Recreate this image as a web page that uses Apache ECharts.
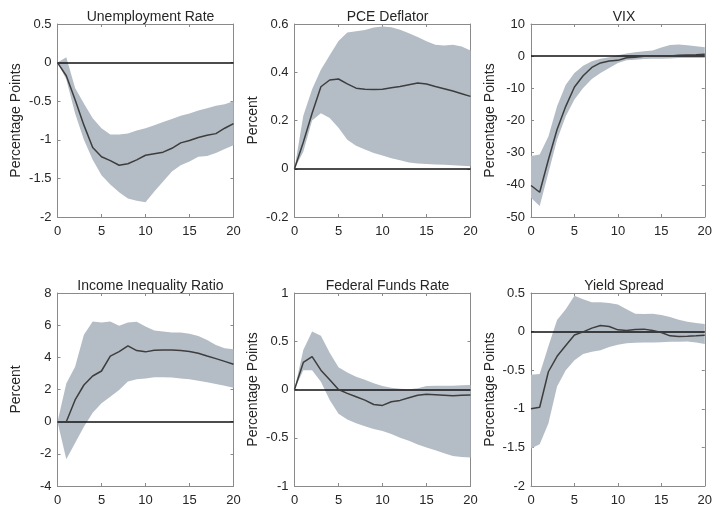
<!DOCTYPE html>
<html><head><meta charset="utf-8">
<script src="https://cdn.jsdelivr.net/npm/echarts@6/dist/echarts.min.js"></script>
<style>html,body{margin:0;padding:0;background:#fff}#c{width:715px;height:512px}</style>
</head><body><div id="c"></div>
<script>
const horizons = [0,1,2,3,4,5,6,7,8,9,10,11,12,13,14,15,16,17,18,19,20];
const titles = ['Unemployment Rate','PCE Deflator','VIX','Income Inequality Ratio','Federal Funds Rate','Yield Spread'];
const yNames = ['Percentage Points','Percent','Percentage Points','Percent','Percentage Points','Percentage Points'];
const yMins = [-2, -0.2, -50, -4, -1, -2];
const yMaxs = [0.5, 0.6, 10, 8, 1, 0.5];
const yIntervals = [0.5, 0.2, 10, 2, 0.5, 0.5];

const unempMedian = [0,-0.17,-0.48,-0.81,-1.10,-1.22,-1.27,-1.33,-1.31,-1.26,-1.20,-1.18,-1.16,-1.11,-1.04,-1.01,-0.97,-0.94,-0.92,-0.85,-0.79];
const unempUpper  = [0,0.07,-0.33,-0.53,-0.72,-0.85,-0.93,-0.93,-0.92,-0.88,-0.85,-0.81,-0.77,-0.73,-0.69,-0.66,-0.62,-0.59,-0.56,-0.54,-0.50];
const unempLower  = [0,-0.22,-0.66,-1.00,-1.26,-1.46,-1.58,-1.68,-1.76,-1.79,-1.81,-1.67,-1.54,-1.41,-1.33,-1.28,-1.22,-1.21,-1.17,-1.12,-1.07];

const pceMedian = [0,0.11,0.23,0.34,0.368,0.372,0.352,0.334,0.33,0.328,0.33,0.336,0.341,0.348,0.355,0.351,0.341,0.332,0.322,0.311,0.30];
const pceUpper  = [0,0.22,0.33,0.41,0.47,0.53,0.565,0.57,0.575,0.585,0.59,0.587,0.576,0.562,0.546,0.528,0.514,0.511,0.514,0.507,0.49];
const pceLower  = [0,0.07,0.20,0.23,0.21,0.17,0.12,0.095,0.08,0.065,0.055,0.044,0.035,0.026,0.022,0.02,0.018,0.017,0.014,0.012,0.01];

const vixMedian = [-40.2,-42.3,-32.2,-22.8,-15.6,-9.6,-6.1,-3.5,-2.1,-1.5,-1.3,-0.5,-0.3,0,0,0,0.05,0.25,0.36,0.45,0.6];
const vixUpper  = [-31,-30.6,-25,-15.6,-8.9,-5.2,-3,-1.6,-0.8,-0.3,0.3,0.8,1.2,1.5,1.8,2.7,3.5,3.6,3.4,3.1,2.8];
const vixLower  = [-44,-46.6,-36.3,-26,-18.7,-13.5,-9.9,-7.1,-5.2,-3.7,-2.1,-1.3,-1.1,-0.9,-0.8,-0.8,-0.7,-0.6,-0.6,-0.6,-0.6];

const ineqMedian = [0,0,1.35,2.28,2.84,3.15,4.08,4.36,4.71,4.42,4.34,4.44,4.46,4.46,4.42,4.36,4.25,4.08,3.92,3.75,3.57];
const ineqUpper  = [0,2.38,3.42,5.4,6.23,6.17,6.23,5.96,6.17,6.21,5.92,5.67,5.6,5.54,5.54,5.46,5.33,5.08,4.77,4.57,4.5];
const ineqLower  = [0,-2.34,-1.32,-0.32,0.55,1.14,1.55,1.97,2.49,2.63,2.69,2.76,2.76,2.74,2.69,2.63,2.55,2.45,2.34,2.24,2.11];

const ffrMedian = [0,0.28,0.34,0.20,0.10,0,-0.04,-0.075,-0.11,-0.155,-0.165,-0.127,-0.113,-0.085,-0.06,-0.05,-0.055,-0.06,-0.065,-0.06,-0.057];
const ffrUpper  = [0,0.41,0.60,0.556,0.38,0.23,0.175,0.133,0.1,0.064,0.036,0.019,0.009,0.002,0.012,0.036,0.04,0.04,0.04,0.043,0.047];
const ffrLower  = [0,0.2,0.2,0.08,-0.11,-0.25,-0.31,-0.35,-0.38,-0.41,-0.43,-0.46,-0.50,-0.53,-0.57,-0.60,-0.63,-0.66,-0.69,-0.70,-0.705];

const spreadMedian = [-1.0,-0.98,-0.52,-0.32,-0.18,-0.045,-0.003,0.045,0.08,0.067,0.023,0.015,0.028,0.032,0.015,-0.011,-0.055,-0.063,-0.06,-0.055,-0.046];
const spreadUpper  = [-0.56,-0.55,-0.19,0.15,0.29,0.465,0.42,0.38,0.38,0.37,0.35,0.29,0.23,0.227,0.23,0.214,0.19,0.153,0.127,0.11,0.097];
const spreadLower  = [-1.515,-1.46,-1.19,-0.71,-0.5,-0.37,-0.29,-0.26,-0.24,-0.2,-0.17,-0.15,-0.145,-0.14,-0.14,-0.137,-0.133,-0.133,-0.128,-0.14,-0.16];

const medians = [unempMedian, pceMedian, vixMedian, ineqMedian, ffrMedian, spreadMedian];
const uppers = [unempUpper, pceUpper, vixUpper, ineqUpper, ffrUpper, spreadUpper];
const lowers = [unempLower, pceLower, vixLower, ineqLower, ffrLower, spreadLower];

const FONT = 'Liberation Sans, Arial, Helvetica, sans-serif';
const lefts = [57.5, 294.5, 531];
const tops = [24, 293];
const W = 176, H = 193;
const boxColor = '#8a8a8a';
const textColor = '#262626';
const bandColor = '#b4bdc5';

const grid = [], xAxis = [], yAxis = [], series = [], title = [];
for (let i = 0; i < 6; i++) {
  const col = i % 3, row = Math.floor(i / 3);
  grid.push({left: lefts[col], top: tops[row], width: W, height: H, containLabel: false});
  title.push({text: titles[i], left: lefts[col] + W / 2, top: tops[row] - 19, textAlign: 'center',
    textStyle: {fontFamily: FONT, fontSize: 14, fontWeight: 'normal', color: textColor}});
  const cats = horizons.map(String);
  xAxis.push({type: 'category', gridIndex: i, data: cats, boundaryGap: false, position: 'bottom',
    axisLine: {show: true, onZero: false, lineStyle: {color: boxColor, width: 1}},
    axisTick: {show: true, inside: true, length: 3, interval: 4, lineStyle: {color: boxColor}},
    axisLabel: {show: true, interval: 4, color: textColor, fontFamily: FONT, fontSize: 13, margin: 8},
    splitLine: {show: false}});
  xAxis.push({type: 'category', gridIndex: i, data: cats, boundaryGap: false, position: 'top',
    axisLine: {show: true, onZero: false, lineStyle: {color: boxColor, width: 1}},
    axisTick: {show: true, inside: true, length: 3, interval: 4, lineStyle: {color: boxColor}},
    axisLabel: {show: false}, splitLine: {show: false}});
  yAxis.push({type: 'value', gridIndex: i, min: yMins[i], max: yMaxs[i], interval: yIntervals[i], position: 'left',
    name: yNames[i], nameLocation: 'middle', nameGap: 34, nameRotate: 90,
    nameTextStyle: {fontFamily: FONT, fontSize: 14, color: textColor},
    axisLine: {show: true, onZero: false, lineStyle: {color: boxColor, width: 1}},
    axisTick: {show: true, inside: true, length: 3, lineStyle: {color: boxColor}},
    axisLabel: {color: textColor, fontFamily: FONT, fontSize: 13, margin: 6},
    splitLine: {show: false}});
  yAxis.push({type: 'value', gridIndex: i, min: yMins[i], max: yMaxs[i], interval: yIntervals[i], position: 'right',
    axisLine: {show: true, onZero: false, lineStyle: {color: boxColor, width: 1}},
    axisTick: {show: true, inside: true, length: 3, lineStyle: {color: boxColor}},
    axisLabel: {show: false}, splitLine: {show: false}});
  const xi = 2 * i, yi = 2 * i;
  series.push({type: 'line', xAxisIndex: xi, yAxisIndex: yi, stack: 'band' + i, stackStrategy: 'all',
    data: lowers[i], symbol: 'none', lineStyle: {width: 0, opacity: 0}, silent: true, z: 2});
  series.push({type: 'line', xAxisIndex: xi, yAxisIndex: yi, stack: 'band' + i, stackStrategy: 'all',
    data: uppers[i].map((u, k) => u - lowers[i][k]), symbol: 'none', lineStyle: {width: 0, opacity: 0},
    areaStyle: {color: bandColor, opacity: 1}, silent: true, z: 2,
    markLine: {silent: true, symbol: 'none', label: {show: false}, animation: false,
      lineStyle: {color: '#111', width: 1.5, type: 'solid'}, data: [{yAxis: 0}]}});
  series.push({type: 'line', xAxisIndex: xi, yAxisIndex: yi, data: medians[i], symbol: 'none',
    lineStyle: {color: '#3d3d3d', width: 1.5}, z: 5});
}

const chart = echarts.init(document.getElementById('c'), null, {renderer: 'canvas'});
chart.setOption({animation: false, backgroundColor: '#fff', title, grid, xAxis, yAxis, series});
</script>
</body></html>
